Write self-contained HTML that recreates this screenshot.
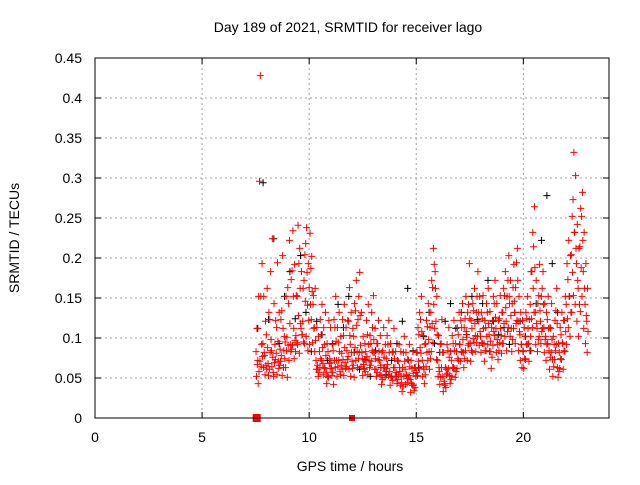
<!DOCTYPE html>
<html><head><meta charset="utf-8"><style>
body{margin:0;background:#fff;}
svg text{font-family:"Liberation Sans",sans-serif;font-size:14px;fill:#000;}
</style></head><body>
<svg id="chart" width="640" height="480" viewBox="0 0 640 480" xmlns="http://www.w3.org/2000/svg">
<rect width="640" height="480" fill="#fff"/>
<g id="grid"></g>
<g id="ticks"></g>
<g id="marks"></g>
<rect x="95" y="58" width="514" height="360" fill="none" stroke="#000" stroke-width="1"/>
<text x="348" y="32" text-anchor="middle">Day 189 of 2021, SRMTID for receiver lago</text>
<text x="350" y="471" text-anchor="middle">GPS time / hours</text>
<text transform="translate(19,238) rotate(-90)" text-anchor="middle">SRMTID / TECUs</text>
</svg>
<script>
const xTicks=[0,5,10,15,20];
const yTicks=[0,0.05,0.1,0.15,0.2,0.25,0.3,0.35,0.4,0.45];
const yTickLabels=["0","0.05","0.1","0.15","0.2","0.25","0.3","0.35","0.4","0.45"];
const tStart=7.52, tStep=0.08;
const redA=[83,72,296,64,93,78, 104,68,123,84,57,92,113,71,86,134,63,95,101, 143,92,184,112,83,152,193,118,104,172,218,141, 163,187,94,113,72,61,83,104,68,92,57,83,74, 62,84,113,72,94,58,81,103,69,84,121,92, 71,102,134,83,152,91,74,62,83,104,72,93,113, 82,61,93,72,53,84,63,74,92,58,52,83, 63,52,71,58,44,82,61,53,72,48,62,41,63, 82,104,123,72,61,93,114,83,132,163,192,121, 72,58,93,52,43,61,84,53,72,93,62,83,104, 92,113,82,124,101,142,93,112,134,103,152,121, 102,124,93,113,132,104,83,122,143,112,92,124,103, 132,153,121,172,143,112,163,132,194,121,104,92, 83,102,124,93,142,183,214,132,112,153,121,162,113, 102,123,84,112,73,92,134,63,82,104,93,122, 142,173,152,204,273,232,193,162,214,252,183,142,121];
const redB=[52,43,71,92,63,54, 61,53,82,64,52,73,54,62,71,53,84,63,51, 72,83,91,74,103,92,81,112,121,93,102,84, 92,123,142,83,61,52,63,72,54,62,43,51,62, 53,42,63,52,72,54,61,53,62,73,61,52, 62,51,72,63,82,64,53,61,72,54,63,71,82, 61,52,73,54,42,63,51,62,53,41,52,63, 52,43,54,41,33,52,42,44,53,32,41,34,52, 53,62,81,52,43,64,72,61,83,94,112,73, 52,42,63,33,41,54,62,43,52,63,51,62,72, 71,82,63,84,72,93,71,82,94,83,102,91, 82,93,71,84,92,83,62,91,103,82,73,94,81, 93,102,84,113,102,83,112,93,122,84,72,63, 62,73,92,71,102,113,132,92,83,102,93,112,82, 72,93,61,82,52,73,92,51,62,73,61,83, 92,113,102,132,153,142,121,102,133,152,112,93,82];
const redC=[112,152,428,193,152,121, 162,132,183,224,143,122,194,132,123,203,102,152,163, 222,173,234,192,153,241,212,183,162,204,238,193, 231,202,153,162,113,102,123,142,113,132,93,122,113, 92,123,152,113,132,102,123,142,113,122,163,132, 112,143,172,123,182,132,102,93,122,142,103,132,153, 112,93,122,103,82,113,92,103,122,93,82,112, 83,72,92,83,63,102,82,73,92,72,83,63,82, 113,132,152,103,92,122,143,113,172,212,183,152, 103,92,123,82,63,92,113,83,103,122,93,113,132, 122,143,113,152,132,193,122,143,162,132,183,152, 132,153,122,143,162,133,113,152,172,143,122,153,132, 162,183,152,203,172,143,192,163,212,152,132,122, 113,132,152,123,183,232,264,172,143,192,152,183,143, 132,152,113,143,102,122,162,93,113,132,122,152, 193,222,203,252,332,303,242,212,262,282,232,193,162];
const redD=[67,58,152,77,82,66, 88,61,98,76,69,81,96,66,78,112,74,84,91, 118,86,152,97,94,128,162,104,95,146,182,122, 142,158,112,97,66,57,74,88,63,78,52,68,69, 57,72,96,64,83,66,73,88,64,77,103,82, 66,88,116,74,128,82,67,58,77,92,66,84,98, 74,57,83,66,48,76,58,67,82,51,47,74, 57,48,63,52,39,71,54,49,64,43,56,38,57, 71,88,108,64,54,82,98,74,118,142,162,104, 63,51,82,46,38,56,76,48,63,84,58,74,92, 83,98,74,108,91,124,84,99,118,94,132,108, 94,112,84,102,118,96,76,108,126,98,84,112,93, 118,138,108,152,128,98,146,118,172,108,92,84, 74,92,112,84,124,162,188,118,98,134,108,142,98, 92,112,76,98,64,84,118,58,74,94,84,108, 124,152,132,182,232,212,172,142,188,222,162,128,108];
const blkStart=7.6, blkStep=0.25;
const black=[112,294,123,224,93,152,183,124,203,132,83,121,104,72,93,142,113,152,82,61,73,52,84,63,54,72,93,121,162,84,63,102,132,93,82,121,143,112,132,104,152,123,143,172,121,104,113,92,132,121,102,84,143,222,278,193,132];
const flagTimes=[7.55,12.0];
const flagSizes=[8,6];
const X=t=>95+t*(514/24);
const Y=v=>418-v*800;
const NS="http://www.w3.org/2000/svg";
function mk(tag,attrs,parent){const e=document.createElementNS(NS,tag);for(const k in attrs)e.setAttribute(k,attrs[k]);parent.appendChild(e);return e;}
const grid=document.getElementById('grid'),ticks=document.getElementById('ticks'),marks=document.getElementById('marks');
yTicks.forEach((v,i)=>{
  const y=Y(v);
  if(i>0&&i<yTicks.length-1){const g=mk('line',{x1:95,x2:609,y1:y,y2:y,stroke:'#a0a0a0','stroke-dasharray':'2,3'},grid);
  
  }
  mk('line',{x1:95,x2:101,y1:y,y2:y,stroke:'#000'},ticks);
  mk('line',{x1:603,x2:609,y1:y,y2:y,stroke:'#000'},ticks);
  const t=mk('text',{x:82,y:y+5,'text-anchor':'end'},ticks);t.textContent=yTickLabels[i];
  
  
});
xTicks.forEach(v=>{
  const x=X(v);
  if(v>0){const g=mk('line',{x1:x,x2:x,y1:58,y2:418,stroke:'#a0a0a0','stroke-dasharray':'2,3'},grid);
  
  }
  mk('line',{x1:x,x2:x,y1:412,y2:418,stroke:'#000'},ticks);
  mk('line',{x1:x,x2:x,y1:58,y2:64,stroke:'#000'},ticks);
  const t=mk('text',{x:x,y:442,'text-anchor':'middle'},ticks);t.textContent=String(v);
  
  
});
function plus(t,v,color){
  const x=X(t),y=Y(v);
  const p=mk('path',{d:`M${x-3.5},${y}h7M${x},${y-3.5}v7`,stroke:color,'stroke-width':1,fill:'none'},marks);
  
  
}
black.forEach((v,i)=>plus(blkStart+i*blkStep,v/1000,'#000'));
[redA,redB,redC,redD].forEach((arr,k)=>arr.forEach((v,i)=>plus(tStart+i*tStep+k*0.02,v/1000,'#f00')));
flagTimes.forEach((t,i)=>{
  const s=flagSizes[i];
  const r=mk('rect',{x:X(t)-s/2,y:Y(0)-s/2,width:s,height:s,fill:'#f00'},marks);
  
  
});
</script>
</body></html>
